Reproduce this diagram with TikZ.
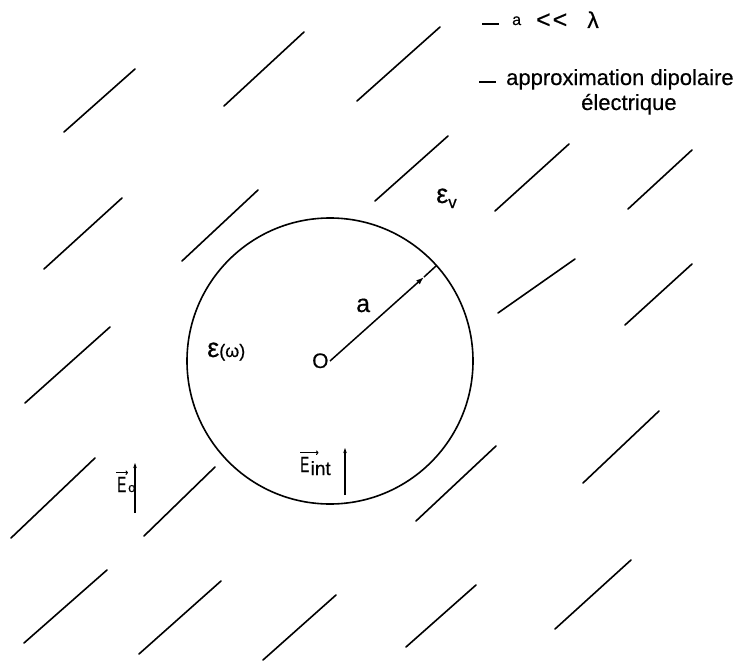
\documentclass[tikz,border=0pt]{standalone}
\usepackage{fontspec}
\setmainfont[FakeBold=0.4]{Liberation Sans}
\newfontfamily\condfont[FakeStretch=0.62,FakeBold=0.4]{Liberation Sans}
\usetikzlibrary{arrows.meta}
\begin{document}
\begin{tikzpicture}[x=1pt,y=-1pt,
  hatch/.style={line width=1.6pt, line cap=round},
  lbl/.style={inner sep=0pt, anchor=base west},
  fieldarrow/.style={line width=1.4pt, -{Stealth[length=5pt,width=3.5pt]}},
  overarrow/.style={line width=1pt, -{To[length=2.5pt,width=4.5pt]}}]
\useasboundingbox (0,0) rectangle (739,661);
\fill[white] (0,0) rectangle (739,661);

% hatch lines (vacuum region)
\foreach \ax/\ay/\bx/\by in {
  64/132/135/69, 224/106/304/32, 357/101/440/27,
  44/269/122/198, 182/261/258/190, 375/201/448/136,
  495/211/569/144, 628/209/692/150, 498/313/575/259,
  625/325/692/264, 25/403/110/327, 11/538/95/458,
  144/536/215/467, 24/643/107/570, 139/654/221/581,
  263/660/336/595, 416/521/496/446, 583/483/659/411,
  406/647/476/585, 555/629/631/560}
  \draw[hatch] (\ax,\ay) -- (\bx,\by);

% sphere
\coordinate (O) at (330,361);
\draw[line width=1.6pt] (O) circle[radius=143];
\coordinate (P) at (424,277);
\coordinate (R) at (436,266);
\draw[line width=1.5pt, -{Latex[length=8pt,width=5.5pt]}] (O) -- (P);
\draw[line width=1.5pt] (P) -- (R);

% labels inside / around sphere
\node[lbl] (Olbl) at (312,368) {\fontsize{21}{21}\selectfont O};
\node[lbl] (albl) at (356,312) {\fontsize{25}{25}\selectfont a};
\node[lbl] (epsw) at (207,357) {\fontsize{27}{27}\selectfont ε\fontsize{18}{18}\selectfont(ω)};
\node[lbl] (epsv) at (436,203) {\fontsize{27}{27}\selectfont ε\raisebox{-5pt}{\fontsize{17}{17}\selectfont v}};

% E_o
\node[lbl] (Eo) at (117,492) {\fontsize{22}{22}\selectfont\condfont E};
\node[lbl] (Eosub) at ([xshift=1.5pt]Eo.base east) {\fontsize{13}{13}\selectfont o};
\draw[overarrow] ([yshift=4pt,xshift=-1pt]Eo.north west) -- ([yshift=4pt,xshift=1.5pt]Eo.north east);
\coordinate (Eo1) at (135,513);
\coordinate (Eo2) at (135,463);
\draw[fieldarrow] (Eo1) -- (Eo2);

% E_int
\node[lbl] (Ei) at (300,472) {\fontsize{22}{22}\selectfont\condfont E};
\node[lbl] (Eisub) at ([xshift=1pt,yshift=-3pt]Ei.base east) {\fontsize{19}{19}\selectfont int};
\draw[overarrow] ([yshift=4pt]Ei.north west) -- ([yshift=4pt,xshift=9pt]Ei.north east);
\coordinate (Ei1) at (345,495);
\coordinate (Ei2) at (345,448);
\draw[fieldarrow] (Ei1) -- (Ei2);

% remarks top right
\node[lbl] (r1) at (482,28) {\fontsize{22}{22}\selectfont\rule[3pt]{17pt}{2pt}\hspace{13pt}\raisebox{3pt}{\fontsize{16}{16}\selectfont a}\hspace{15pt}{\fontsize{25}{25}\selectfont <\hspace{2pt}<}\hspace{20pt}{\fontsize{23}{23}\selectfont λ}};
\node[lbl] (r2) at (479,85) {\fontsize{22}{22}\selectfont\rule[2pt]{17pt}{2pt}\hspace{10pt}approximation dipolaire};
\node[lbl] (r3) at (581,110) {\fontsize{22}{22}\selectfont électrique};
\end{tikzpicture}
\end{document}
